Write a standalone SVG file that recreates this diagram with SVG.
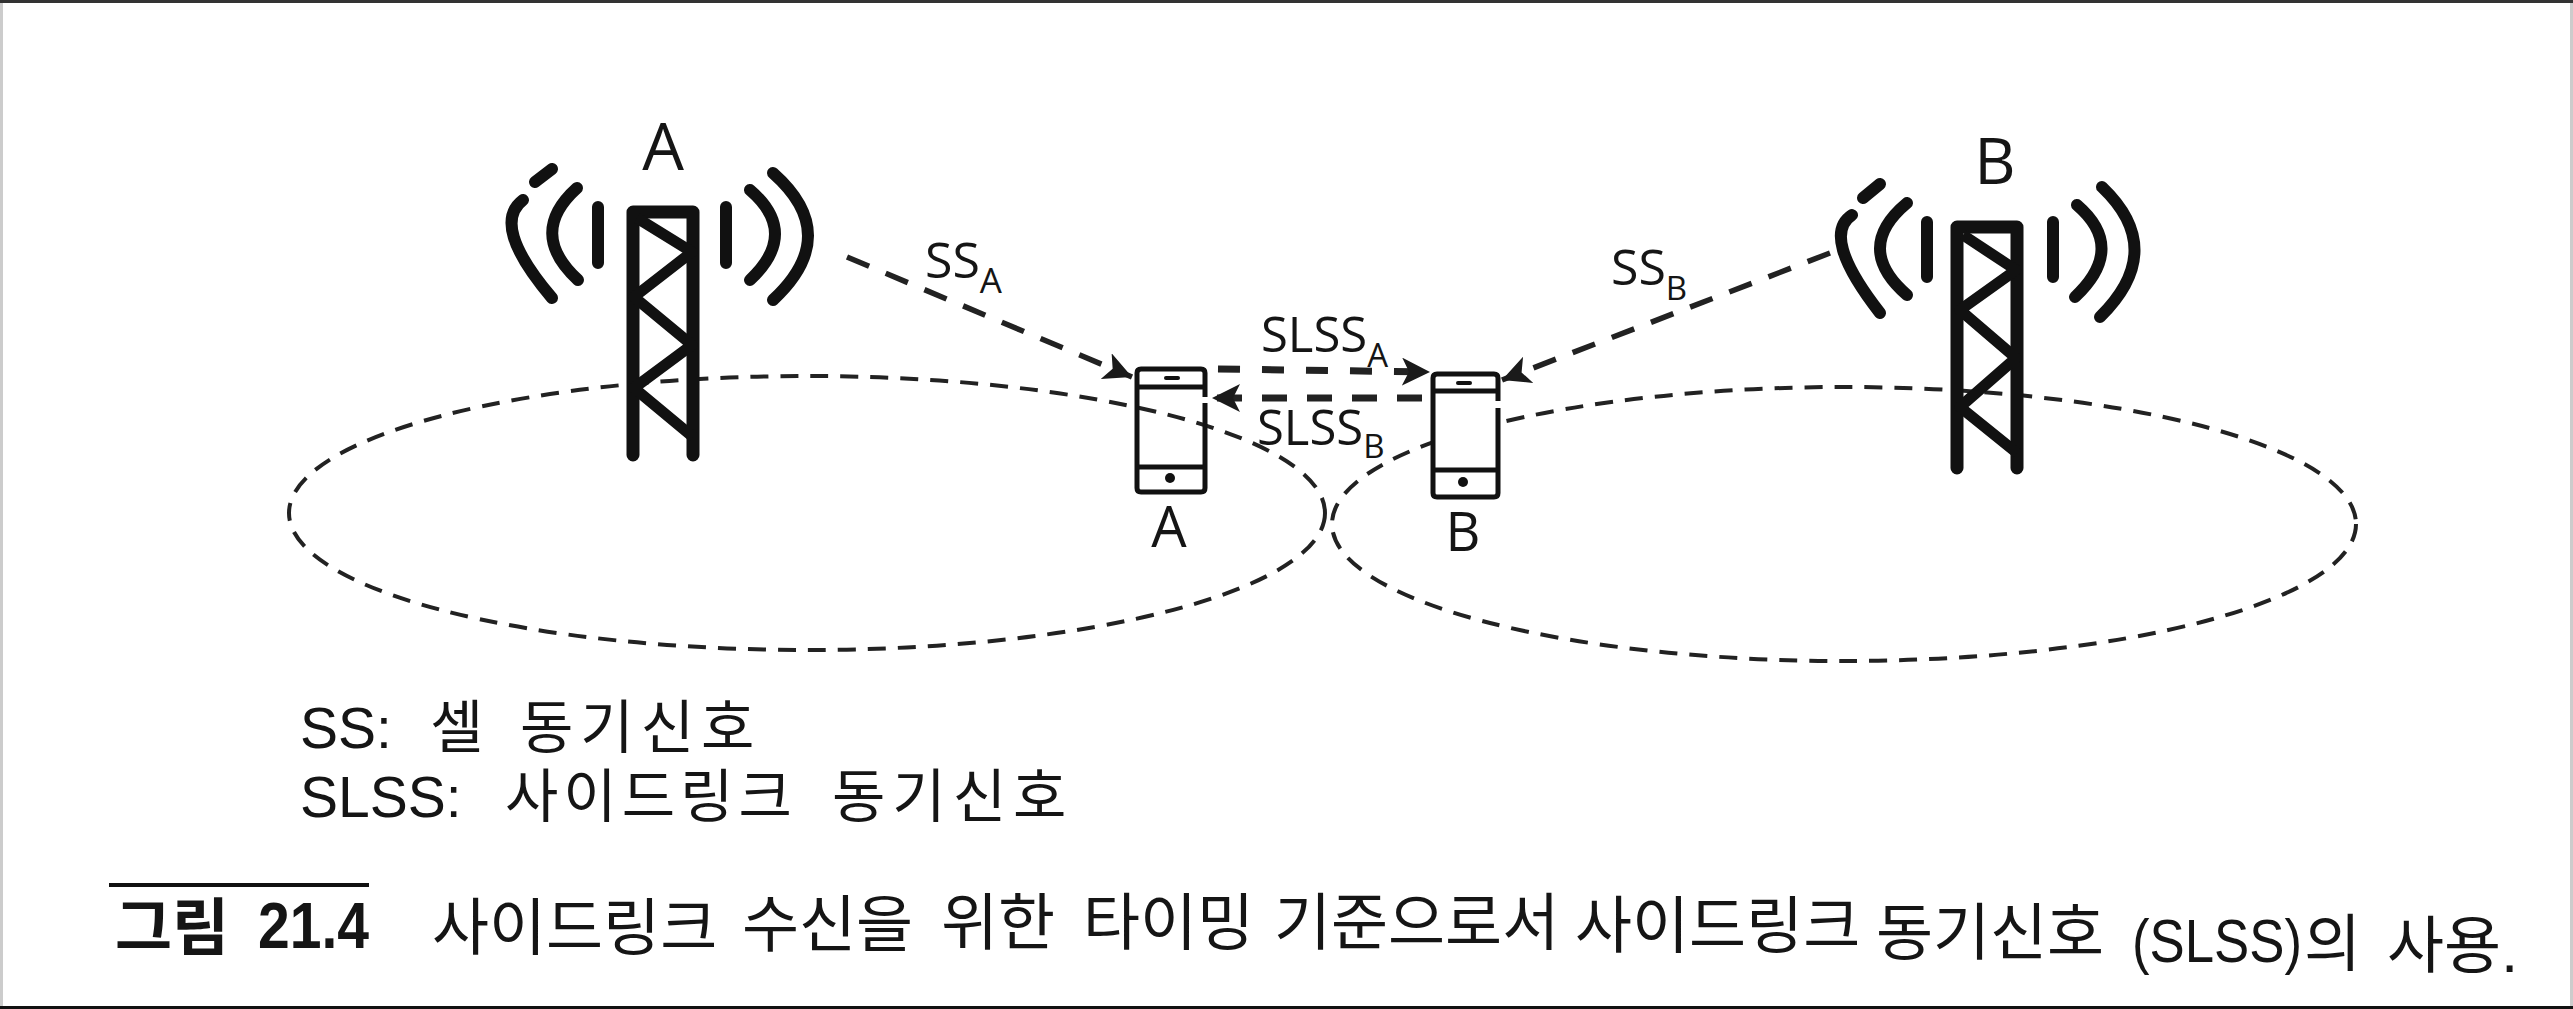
<svg xmlns="http://www.w3.org/2000/svg" width="2573" height="1009" viewBox="0 0 2573 1009">
<style>
text{fill:#151515;font-family:"Open Sans","Noto Sans",sans-serif}
.t{fill:none;stroke:#111;stroke-width:13;stroke-linecap:round;stroke-linejoin:round}
.d{stroke-width:11;stroke-linecap:butt}
.s{fill:none;stroke:#111;stroke-width:12;stroke-linecap:round}
.e{fill:none;stroke:#222;stroke-width:4;stroke-dasharray:18 12}
.a{fill:none;stroke:#222;stroke-width:5.5}
.p{fill:none;stroke:#111;stroke-width:5;stroke-linejoin:round}
.k{font-family:"Liberation Sans","Noto Sans CJK KR",sans-serif}
.h{font-family:"Noto Sans CJK KR",sans-serif}
.cap{font-size:62px}
.leg{font-size:57px}
.lh{font-family:"Noto Sans CJK KR",sans-serif;font-size:58px;letter-spacing:7px}
</style>
<defs>
<marker id="arr" markerUnits="userSpaceOnUse" markerWidth="32" markerHeight="30" refX="28" refY="14" orient="auto">
<path d="M0 0L28 14L0 28L7 14Z" fill="#1a1a1a"/>
</marker>
</defs>
<rect width="2573" height="1009" fill="#fff"/>
<rect x="0" y="0" width="3" height="1009" fill="#ccc"/>
<rect x="2570" y="0" width="3" height="1009" fill="#ccc"/>
<rect x="0" y="0" width="2573" height="3" fill="#333"/>
<rect x="0" y="1006" width="2573" height="3" fill="#111"/>
<g id="coverage">
<ellipse class="e" cx="807" cy="513" rx="518" ry="137"/>
<ellipse class="e" cx="1844" cy="524" rx="512" ry="137"/>
</g>
<g id="tower-a">
<path class="t" d="M633 455V212H693V455"/>
<path class="t d" d="M637 218L692 252L634 297L692 345L634 388L693 437"/>
<path class="s" d="M598 207V263M577 188Q527 233 578 280M523 200Q490 225 552 298M535 182L552 169M726 207V263M750 190Q800 233 750 280M773 173Q843 235 773 300"/>
<text x="663" y="170" font-size="66" text-anchor="middle">A</text>
</g>
<g id="tower-b">
<path class="t" d="M1957 468V227H2017V468"/>
<path class="t d" d="M1963 235L2016 270L1960 310L2016 358L1960 407L2017 453"/>
<path class="s" d="M1927 222V277M2053 222V277M1907 203Q1853 248 1907 295M1852 215Q1820 236 1880 313M1863 198L1880 184M2077 205Q2127 248 2075 297M2102 187Q2168 250 2100 317"/>
<text x="1995" y="184" font-size="64" text-anchor="middle">B</text>
</g>
<g id="phone-a">
<path class="p" d="M1205 397V373Q1205 369 1201 369H1141Q1137 369 1137 373V488Q1137 492 1141 492H1201Q1205 492 1205 488V403"/>
<path class="p" d="M1137 387H1205M1137 467H1205"/>
<path d="M1166 378H1178" stroke="#111" stroke-width="4" stroke-linecap="round"/>
<circle cx="1170" cy="478" r="5" fill="#111"/>
<text x="1169" y="547" font-size="56" text-anchor="middle">A</text>
</g>
<g id="phone-b">
<path d="M1435 376H1496V495H1435Z" fill="#fff"/>
<path class="p" d="M1498 401V378Q1498 374 1494 374H1437Q1433 374 1433 378V493Q1433 497 1437 497H1494Q1498 497 1498 493V408"/>
<path class="p" d="M1433 391H1498M1433 470H1498"/>
<path d="M1458 383H1470" stroke="#111" stroke-width="4" stroke-linecap="round"/>
<circle cx="1463" cy="482" r="5" fill="#111"/>
<text x="1463" y="551" font-size="54" text-anchor="middle">B</text>
</g>
<g id="connectors">
<path class="a" stroke-dasharray="24 18" marker-end="url(#arr)" d="M847 257L1132 377"/>
<path class="a" stroke-dasharray="24 18" marker-end="url(#arr)" d="M1830 253L1502 380"/>
<path class="a" stroke-dasharray="22 22" style="stroke-width:7" marker-end="url(#arr)" d="M1218 369L1430 372"/>
<path class="a" stroke-dasharray="25 20" style="stroke-width:7" marker-end="url(#arr)" d="M1422 398L1212 398"/>
</g>
<g id="labels">
<text x="925" y="278" font-size="50">SS<tspan font-size="35" dy="15">A</tspan></text>
<text x="1611" y="285" font-size="50">SS<tspan font-size="33" dy="15">B</tspan></text>
<text x="1261" y="352" font-size="49">SLSS<tspan font-size="33" dy="15">A</tspan></text>
<text x="1257" y="445" font-size="49">SLSS<tspan font-size="33" dy="13">B</tspan></text>
</g>
<g id="legend">
<text class="k leg" y="748"><tspan x="300">SS:</tspan> <tspan x="430" class="lh">셀</tspan> <tspan x="520" class="lh">동기신호</tspan></text>
<text class="k leg" y="817"><tspan x="300">SLSS:</tspan> <tspan x="505" class="lh" style="letter-spacing:5px">사이드링크</tspan> <tspan x="832" class="lh">동기신호</tspan></text>
</g>
<g id="caption">
<rect x="109" y="883" width="260" height="4" fill="#111"/>
<text class="k cap"><tspan x="115" y="950" class="h" font-weight="700">그림</tspan> <tspan x="258" y="948" font-weight="700" font-size="64" textLength="111" lengthAdjust="spacingAndGlyphs">21.4</tspan> <tspan x="432" y="950" class="h">사이드링크</tspan> <tspan x="742" y="947" class="h">수신을</tspan> <tspan x="941" y="945" class="h">위한</tspan> <tspan x="1083" y="945" class="h">타이밍</tspan> <tspan x="1274" y="945" class="h">기준으로서</tspan> <tspan x="1575" y="948" class="h">사이드링크</tspan> <tspan x="1876" y="955" class="h">동기신호</tspan> <tspan x="2132" y="962" font-size="62" textLength="170" lengthAdjust="spacingAndGlyphs">(SLSS)</tspan><tspan class="h" x="2304" y="966">의</tspan> <tspan x="2387" y="968" class="h">사용</tspan><tspan y="972">.</tspan></text>
</g>
</svg>
